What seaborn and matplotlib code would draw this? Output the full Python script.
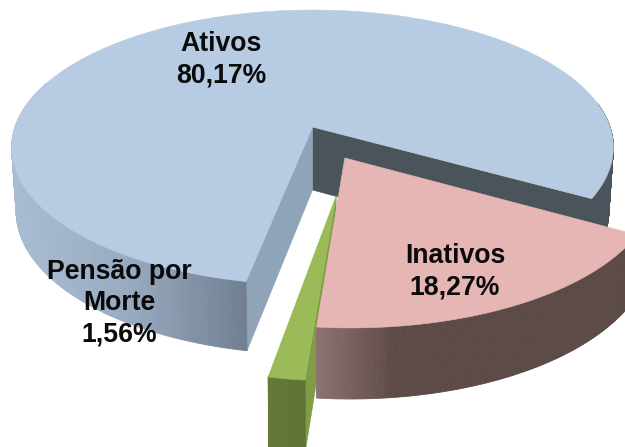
import numpy as np
import matplotlib
matplotlib.use("Agg")
import matplotlib.pyplot as plt
from matplotlib.collections import PolyCollection
from matplotlib.patches import Polygon
import seaborn as sns

# Data
categories = ["Ativos", "Inativos", "Pensão por\nMorte"]
shares = [80.17, 18.27, 1.56]
share_labels = ["80,17%", "18,27%", "1,56%"]

sns.set_theme(style="white")
plt.rcParams["font.family"] = ["Liberation Sans", "DejaVu Sans"]

# Projection of the tilted pie (screen pixels, y down)
CX, CY, A, B, K = 312.5, 127.0, 297.5, 134.4, 0.149
BOT_DY, BOT_AX, BOT_BY = 63.0, 0.985, 1.04
START = 101.0  # angle where the first slice starts, clockwise from east


def top(u, v):
    w = 1 - K * np.asarray(v)
    return np.column_stack([CX + A * np.asarray(u) / w, CY + B * np.asarray(v) / w])


def bottom(u, v):
    w = 1 - K * np.asarray(v)
    return np.column_stack([CX + BOT_AX * A * np.asarray(u) / w,
                            CY + BOT_DY + BOT_BY * B * np.asarray(v) / w])


def arc(a0, a1, off, n=120):
    t = np.radians(np.linspace(a0, a1, n))
    return np.cos(t) + off[0], np.sin(t) + off[1]


def strip(ax, a0, a1, off, pal, xr, z):
    """Outer wall of a slice, coloured across the screen from pal."""
    u, v = arc(a0, a1, off, 160)
    t, b = top(u, v), bottom(u, v)
    polys, cols = [], []
    for i in range(len(u) - 1):
        polys.append([t[i], t[i + 1], b[i + 1], b[i]])
        f = np.clip((t[i, 0] - xr[0]) / (xr[1] - xr[0]), 0, 1)
        cols.append(pal[int(f * (len(pal) - 1))])
    ax.add_collection(PolyCollection(polys, facecolors=cols, edgecolors=cols,
                                     linewidths=0.6, zorder=z))


def top_face(ax, a0, a1, off, color, z):
    u, v = arc(a0, a1, off, 240)
    u = np.r_[off[0], u]
    v = np.r_[off[1], v]
    ax.add_patch(Polygon(top(u, v), closed=True, fc=color, ec=color, lw=0.4, zorder=z))


def cut_face(ax, ang, off, color, z):
    t = np.radians(ang)
    u = np.array([off[0], np.cos(t) + off[0]])
    v = np.array([off[1], np.sin(t) + off[1]])
    p = np.vstack([top(u, v), bottom(u, v)[::-1]])
    ax.add_patch(Polygon(p, closed=True, fc=color, ec=color, lw=0.4, zorder=z))


fig = plt.figure(figsize=(6.25, 4.47), dpi=100)
ax = fig.add_axes([0, 0, 1, 1])
ax.set_xlim(0, 625)
ax.set_ylim(447, 0)
ax.axis("off")

spans = np.array(shares) * 3.6
a_end = START + spans[0]        # Ativos runs clockwise from START all the way round
i_end = a_end + spans[1]
p_end = i_end + spans[2]

off_a = (0.0, 0.0)
off_i = (0.105, 0.2226)
off_p = (0.074, 0.475)

blue_wall = sns.blend_palette(["#a9bcd3", "#98aac0", "#6f7e90"], 64)
pink_wall = sns.blend_palette(["#8d7272", "#5e4b48", "#5c4a47"], 64)
green_wall = sns.blend_palette(["#66793a", "#5d7234"], 16)

# Ativos
strip(ax, a_end - 40, a_end, off_a, ["#4b545b"], (0, 625), 1)
cut_face(ax, a_end, off_a, "#4b545b", 2)
cut_face(ax, START, off_a, "#8fa3b9", 3)
strip(ax, START, 200, off_a, blue_wall, (12, 248), 3)
top_face(ax, START, a_end, off_a, "#b7cce2", 4)

# Pensão por Morte
cut_face(ax, i_end - 360, off_p, "#7f9c47", 5)
strip(ax, i_end - 360, p_end - 360, off_p, green_wall, (262, 310), 5)
top_face(ax, i_end - 360, p_end - 360, off_p, "#9bbb59", 6)

# Inativos
strip(ax, a_end - 360, i_end - 360, off_i, pink_wall, (317, 470), 7)
top_face(ax, a_end - 360, i_end - 360, off_i, "#e5b6b4", 8)

# Labels
txt = dict(ha="center", va="center", fontsize=19.2, fontweight="bold",
           color="#0a0a0a", zorder=10, linespacing=1.27)
ax.text(221, 59.5, f"{categories[0]}\n{share_labels[0]}", **txt)
ax.text(455, 272, f"{categories[1]}\n{share_labels[1]}", **txt)
ax.text(119, 303, f"{categories[2]}\n{share_labels[2]}", **txt)

fig.savefig("out.png", dpi=100)
